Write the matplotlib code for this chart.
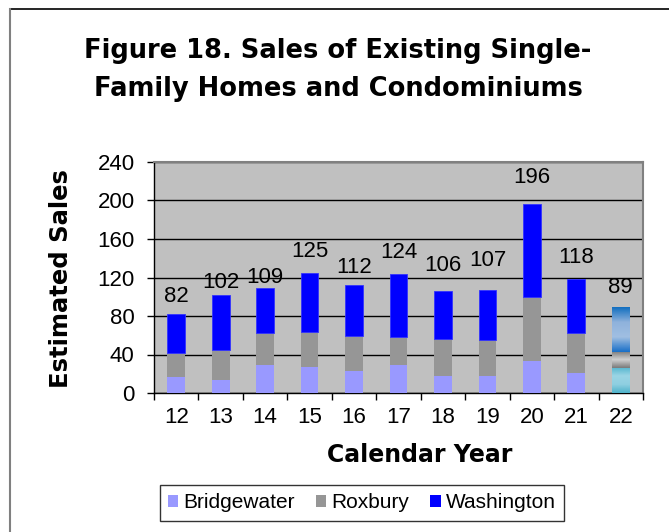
import numpy as np
import matplotlib.pyplot as plt
from matplotlib.colors import LinearSegmentedColormap
from matplotlib.patches import Patch
from matplotlib.lines import Line2D

# data
years = ['12', '13', '14', '15', '16', '17', '18', '19', '20', '21', '22']
bridgewater = [17, 13, 29, 27, 23, 29, 18, 18, 33, 21, 26]
roxbury = [25, 32, 33, 36, 36, 29, 38, 37, 67, 41, 17]
washington = [40, 57, 47, 62, 53, 66, 50, 52, 96, 56, 46]
yticks = [0, 40, 80, 120, 160, 200, 240]

colors = {'Bridgewater': '#9999ff', 'Roxbury': '#969696', 'Washington': '#0000ff'}
bar_w = 0.4
# gap (px) between each total label and its bar, as placed in the original
label_gap = [12, 7, 5, 16, 12, 16, 20, 24, 21, 16, 14]
tick_font = 'Liberation Sans'
bold_font = 'DejaVu Sans'

fig = plt.figure(figsize=(6.69, 5.32), dpi=100)
ax = fig.add_axes([154 / 669, 1 - 393 / 532, 489 / 669, 231 / 532])
ax.set_facecolor('#c0c0c0')

x = np.arange(len(years))
b = np.array(bridgewater)
r = np.array(roxbury)
w = np.array(washington)
n = len(years) - 1  # last year drawn with gradient fills

ax.bar(x[:n], b[:n], bar_w, color=colors['Bridgewater'], zorder=3)
ax.bar(x[:n], r[:n], bar_w, bottom=b[:n], color=colors['Roxbury'], zorder=3)
ax.bar(x[:n], w[:n], bar_w, bottom=(b + r)[:n], color=colors['Washington'],
       edgecolor='#3333ff', linewidth=0.6, zorder=3)

ax.set_xlim(-0.5, len(years) - 0.5)
ax.set_ylim(0, 240)

# gradient segments for the last bar
grads = [
    (0, b[n], ['#4fb3cb', '#8fcfe1', '#9ad5e5', '#55b6cf']),
    (b[n], b[n] + r[n], ['#7a7a7a', '#d0d0d0', '#7a7a7a']),
    (b[n] + r[n], b[n] + r[n] + w[n], ['#1a70c8', '#a0bfe2', '#8fb2dc', '#1470c0']),
]
for lo, hi, cols in grads:
    cmap = LinearSegmentedColormap.from_list('g', cols)
    grad = np.linspace(0, 1, 64).reshape(-1, 1)
    ax.imshow(grad, cmap=cmap, aspect='auto', origin='lower',
              extent=[x[n] - bar_w / 2, x[n] + bar_w / 2, lo, hi], zorder=3)

totals = b + r + w
for xi, t, g in zip(x, totals, label_gap):
    ax.annotate(str(t), (xi, t), xytext=(0, g * 0.72), textcoords='offset points',
                ha='center', va='baseline', fontsize=16, family=tick_font)

ax.set_yticks(yticks)
ax.set_yticklabels([str(v) for v in yticks], family=tick_font, fontsize=16)
ax.set_xticks(x)
ax.set_xticklabels(years, family=tick_font, fontsize=16)
ax.set_xticks(np.arange(-0.5, len(years), 1), minor=True)
ax.tick_params(axis='x', which='major', length=0, pad=10)
ax.tick_params(axis='x', which='minor', length=5, width=1, direction='out')
ax.tick_params(axis='y', length=5, width=1, direction='out', pad=9)
ax.grid(axis='y', color='black', linewidth=1, zorder=1)
ax.set_axisbelow(True)

for s in ['top', 'right']:
    ax.spines[s].set_color('#808080')
    ax.spines[s].set_linewidth(1.5)
for s in ['left', 'bottom']:
    ax.spines[s].set_color('black')
    ax.spines[s].set_linewidth(1)

fig.text(61 / 669, 1 - 279 / 532, 'Estimated Sales', rotation=90, ha='center', va='center',
         family=bold_font, fontweight='bold', fontsize=17.5)
fig.text(420 / 669, 1 - 455 / 532, 'Calendar Year', ha='center', va='center',
         family=bold_font, fontweight='bold', fontsize=17)

fig.text(338 / 669, 1 - 70 / 532, 'Figure 18. Sales of Existing Single-\nFamily Homes and Condominiums',
         ha='center', va='center', family=bold_font, fontweight='bold', fontsize=18.5,
         linespacing=1.55)

handles = [Patch(facecolor=colors[k], edgecolor='none') for k in colors]
leg = fig.legend(handles, list(colors.keys()), loc='center', bbox_to_anchor=(362 / 669, 1 - 503 / 532),
                 ncol=3, frameon=True, fancybox=False, edgecolor='black',
                 prop={'family': tick_font, 'size': 15}, handlelength=0.5, handleheight=0.5,
                 handletextpad=0.25, columnspacing=1.0, borderpad=0.4, borderaxespad=0)
leg.get_frame().set_linewidth(1)

# outer chart-area frame
fig.add_artist(Line2D([10 / 669, 1], [1 - 9 / 532, 1 - 9 / 532], color='black', linewidth=1.2))
fig.add_artist(Line2D([10 / 669, 10 / 669], [0, 1 - 9 / 532], color='#808080', linewidth=1.5))

fig.savefig('out.png', dpi=100)
